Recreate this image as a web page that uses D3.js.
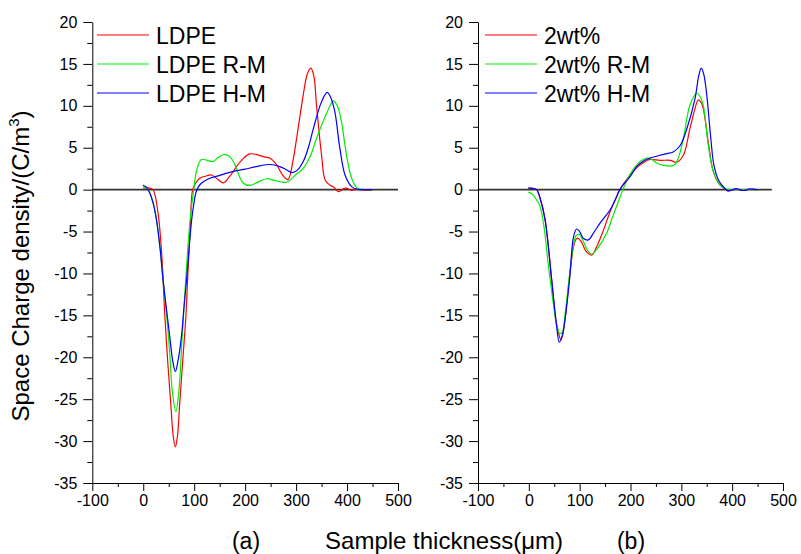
<!DOCTYPE html>
<html>
<head>
<meta charset="utf-8">
<script src="https://cdn.jsdelivr.net/npm/d3@7"></script>
<style>
  body { margin: 0; background: #fff; }
  svg { font-family: Arial, "Liberation Sans", sans-serif; }
</style>
</head>
<body>
<div id="chart"></div>
<script>
// panel (a)
const ldpeX = [0, 10, 19, 29, 36, 42.5, 48, 53.5, 59, 63, 67, 72, 78, 83.6, 88, 92, 97, 103, 111, 122, 134, 147, 157, 170, 183, 196, 209, 222, 235, 249, 262, 273, 284, 294, 301, 314, 322, 329, 335, 340, 350, 357, 366, 374, 383, 396, 409, 422, 438, 450];
const ldpeY = [0.2, 0.2, 0, -2.8, -7.5, -15.2, -20.5, -25.1, -29.5, -30.7, -29.5, -25.1, -20, -15.2, -9.5, -4.8, 0, 0.8, 1.36, 1.6, 1.75, 1.2, 0.8, 1.6, 2.75, 3.7, 4.26, 4.2, 3.94, 3.75, 2.95, 1.8, 1.2, 3.5, 6.1, 11.3, 13.8, 14.5, 13.5, 10.1, 4.1, 1.16, 0.56, 0.3, -0.24, 0.17, -0.05, 0.05, -0.1, 0];

const ldpeRmX = [0, 8, 13, 20, 26, 33, 39, 46, 52, 57, 64, 70, 76, 82, 88, 93, 99, 105, 114, 125, 137, 148, 160, 168, 177, 186, 196, 209, 225, 242, 258, 281, 298, 314, 328, 340, 360, 373, 381, 389, 399, 409, 420, 435, 450];
const ldpeRmY = [0.36, 0.1, -0.4, -1.8, -3.6, -7, -10.8, -15, -19.5, -24, -26.5, -24, -18, -12, -6.5, -3, 0, 2.35, 3.6, 3.5, 3.35, 3.9, 4.2, 4.0, 3.35, 2.0, 0.8, 0.5, 0.9, 1.3, 1.1, 0.88, 1.7, 2.55, 4.0, 6.1, 9.1, 10.6, 10.0, 8.1, 4.1, 1.36, 0.17, 0, 0];

const ldpeHmX = [-1, 6, 13, 19, 26, 33, 39, 46, 52, 58, 63, 68, 75, 80, 85, 90, 95, 99, 103, 108, 114, 122, 131, 150, 166, 183, 200, 222, 249, 268, 280, 292, 302, 314, 324, 334, 350, 361, 368, 376, 386, 396, 409, 420, 435, 450];
const ldpeHmY = [0.56, 0.3, -0.43, -1.5, -3.6, -7, -10.8, -14.5, -17.5, -20.5, -21.7, -20.5, -17.5, -14, -10.8, -7, -3.6, -1.8, -0.43, 0.3, 0.76, 1.1, 1.36, 1.7, 2.0, 2.27, 2.45, 2.75, 3.0, 2.75, 2.4, 2.03, 2.3, 3.35, 5.0, 7.3, 10.5, 11.6, 11.0, 9.3, 4.9, 1.75, 0.36, 0.05, 0, 0];

// panel (b)
const wt2X = [-1, 8, 15, 22, 32, 45, 53, 58, 63, 67, 72, 80, 88, 93, 97, 104, 112, 124, 135, 147, 160, 170, 179, 190, 200, 212, 225, 238, 258, 278, 291, 304, 317, 327, 333, 338, 343, 353, 363, 376, 386, 392, 408, 421, 434, 450];
const wt2Y = [0.17, 0.15, 0, -1.0, -3.6, -10.8, -15.6, -17.0, -17.9, -17.2, -15, -10.5, -6.8, -5.9, -5.8, -6.3, -7.3, -7.8, -6.6, -4.8, -2.6, -1.2, 0, 1.0, 1.8, 2.6, 3.2, 3.6, 3.5, 3.5, 3.27, 4.1, 7.3, 9.7, 10.7, 10.5, 9.7, 5.7, 2.15, 0.56, 0.1, -0.15, 0.1, -0.1, 0.05, 0];

const wt2RmX = [-1, 8, 15, 22, 30, 38, 48, 55, 61, 66, 72, 80, 88, 93, 99, 106, 115, 124, 135, 153, 165, 175, 185, 195, 205, 219, 232, 242, 252, 265, 278, 287, 294, 304, 317, 330, 336, 343, 353, 363, 376, 386, 400, 420, 450];
const wt2RmY = [-0.3, -0.6, -1.2, -2.0, -4.5, -8.8, -13.5, -16.2, -17.2, -17.0, -14.5, -10.2, -6.5, -5.5, -5.3, -6.0, -7.2, -7.7, -7.0, -5.2, -3.2, -1.6, 0, 1.4, 2.4, 3.35, 3.75, 3.6, 3.15, 2.9, 2.8, 3.0, 3.75, 6.1, 10.1, 11.5, 11.2, 10.1, 5.3, 2.15, 0.56, 0.1, 0, 0, 0];

const wt2HmX = [-1, 8, 15.5, 22, 32, 45, 53.5, 60, 65, 71, 80, 88, 94, 100, 107, 117, 128, 140, 160, 170, 179, 190, 200, 212, 225, 240, 258, 272, 284, 298, 311, 327, 334, 339, 344, 350, 358, 364, 373, 386, 392, 408, 421, 434, 450];
const wt2HmY = [0.17, 0.15, 0, -1.0, -3.6, -10.8, -15.6, -18.2, -17.6, -15.6, -10.8, -5.6, -4.7, -5.0, -5.8, -6.0, -5.1, -4.0, -2.4, -1.2, 0, 0.9, 1.6, 2.75, 3.4, 3.8, 4.1, 4.3, 4.5, 5.3, 7.3, 10.9, 13.5, 14.5, 13.8, 11.3, 6.1, 2.95, 1.16, 0.1, -0.15, 0.1, -0.1, 0.05, 0];

const seriesColors = ["#ff0000", "#00ee00", "#0000ff"];
const leftNames = ["LDPE", "LDPE R-M", "LDPE H-M"];
const rightNames = ["2wt%", "2wt% R-M", "2wt% H-M"];
const xTicks = [-100, 0, 100, 200, 300, 400, 500];
const yTicks = [-35, -30, -25, -20, -15, -10, -5, 0, 5, 10, 15, 20];

const width = 801, height = 554;

const svg = d3.select("#chart")
    .append("svg")
    .attr("width", width)
    .attr("height", height);

svg.append("rect").attr("width", width).attr("height", height).attr("fill", "#fff");

const y = d3.scaleLinear().domain([-35, 20]).range([483, 22]);

function zip(xs, ys) {
    return xs.map((v, i) => [v, ys[i]]);
}

function drawPanel(x0, x1, data, names, legendLeft, zeroEnd) {
    const x = d3.scaleLinear().domain([-100, 500]).range([x0, x1]);
    const g = svg.append("g");

    // zero line
    g.append("line")
        .attr("x1", x(-100)).attr("x2", x(zeroEnd))
        .attr("y1", y(0)).attr("y2", y(0))
        .attr("stroke", "#333")
        .attr("stroke-width", 1.6);

    // minor ticks
    g.append("g")
        .attr("transform", `translate(0,${y(-35)})`)
        .call(d3.axisBottom(x).tickValues(d3.range(-50, 500, 100)).tickSize(4).tickFormat(""))
        .call(a => a.select(".domain").remove());
    g.append("g")
        .attr("transform", `translate(${x0},0)`)
        .call(d3.axisLeft(y).tickValues(d3.range(-32.5, 20, 5)).tickSize(5).tickFormat(""))
        .call(a => a.select(".domain").remove());

    const xAxis = g.append("g")
        .attr("transform", `translate(0,${y(-35)})`)
        .call(d3.axisBottom(x).tickValues(xTicks).tickSize(8).tickSizeOuter(0).tickPadding(4)
            .tickFormat(d => String(d)));
    const yAxis = g.append("g")
        .attr("transform", `translate(${x0},0)`)
        .call(d3.axisLeft(y).tickValues(yTicks).tickSize(9).tickSizeOuter(0).tickPadding(6)
            .tickFormat(d => String(d)));
    [xAxis, yAxis].forEach(a => {
        a.selectAll("text").style("font-size", "16px").attr("fill", "#000");
        a.select(".domain").attr("stroke", "#000");
    });
    g.selectAll(".tick line").attr("stroke", "#000");

    const line = d3.line()
        .x(d => x(d[0]))
        .y(d => y(d[1]))
        .curve(d3.curveCatmullRom.alpha(0.5));

    data.forEach((pts, i) => {
        g.append("path")
            .datum(pts)
            .attr("d", line)
            .attr("fill", "none")
            .attr("stroke", seriesColors[i])
            .attr("stroke-width", 1.2);
    });

    // legend
    const leg = g.append("g").attr("transform", `translate(${legendLeft},0)`);
    names.forEach((n, i) => {
        const ly = 35 + i * 29;
        leg.append("line")
            .attr("x1", 0).attr("x2", 52)
            .attr("y1", ly).attr("y2", ly)
            .attr("stroke", seriesColors[i])
            .attr("stroke-width", 1.2);
        leg.append("text")
            .attr("x", 59)
            .attr("y", ly + 9)
            .style("font-size", "23px")
            .text(n);
    });
}

drawPanel(92.3, 398, [zip(ldpeX, ldpeY), zip(ldpeRmX, ldpeRmY), zip(ldpeHmX, ldpeHmY)], leftNames, 97, 500);
drawPanel(478, 783, [zip(wt2X, wt2Y), zip(wt2RmX, wt2RmY), zip(wt2HmX, wt2HmY)], rightNames, 485, 478);

// axis titles
svg.append("text")
    .attr("transform", "translate(29,266) rotate(-90)")
    .attr("text-anchor", "middle")
    .style("font-size", "24px")
    .html('Space Charge density/(C/m<tspan dy="-10" style="font-size:15px">3</tspan><tspan dy="10">)</tspan>');

svg.append("text")
    .attr("x", 444)
    .attr("y", 549)
    .attr("text-anchor", "middle")
    .style("font-size", "24px")
    .text("Sample thickness(\u03bcm)");

svg.append("text").attr("x", 246).attr("y", 549).attr("text-anchor", "middle")
    .style("font-size", "23px").text("(a)");
svg.append("text").attr("x", 631).attr("y", 549).attr("text-anchor", "middle")
    .style("font-size", "23px").text("(b)");
</script>
</body>
</html>
